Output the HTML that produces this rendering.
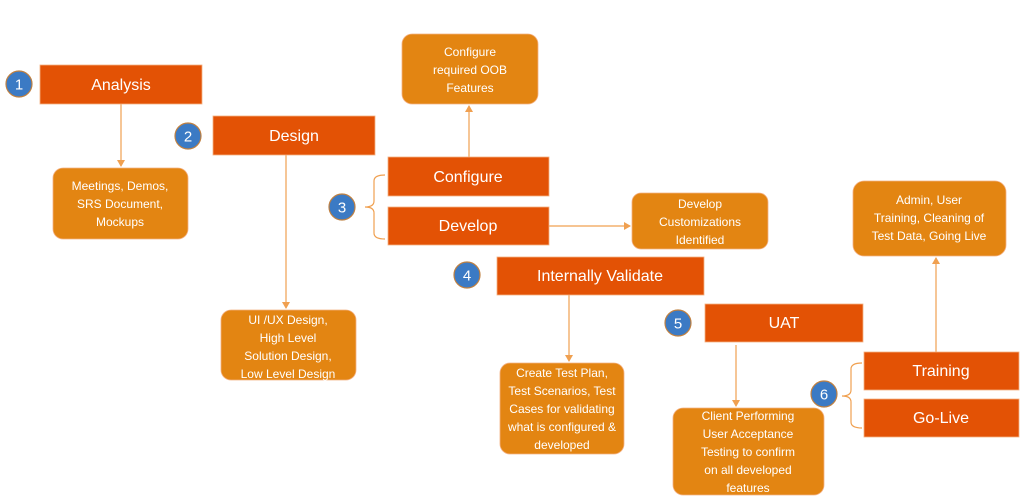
<!DOCTYPE html>
<html><head><meta charset="utf-8"><style>
html,body{margin:0;padding:0;background:#fff;}
svg{display:block;}
.h{fill:#fff;font-family:"Liberation Sans",sans-serif;font-size:16px;text-anchor:middle;}
.t{fill:#fff;font-family:"Liberation Sans",sans-serif;font-size:12px;text-anchor:middle;}
.n{fill:#fff;font-family:"Liberation Sans",sans-serif;font-size:15px;text-anchor:middle;}
.b{fill:#E35205;stroke:#F4B183;stroke-width:0.8;}
.r{fill:#E38512;stroke:#F4B183;stroke-width:0.8;}
.c{fill:#3B7AC4;stroke:#C08040;stroke-width:1.2;}
.l{stroke:#F0A050;stroke-width:1.2;fill:none;}
</style></head><body>
<svg width="1024" height="499" viewBox="0 0 1024 499" xmlns="http://www.w3.org/2000/svg">
<defs><marker id="a" markerWidth="8" markerHeight="8" refX="6" refY="4" orient="auto" markerUnits="userSpaceOnUse"><path d="M0,0 L7,4 L0,8 z" fill="#F0A050"/></marker></defs>

<line class="l" x1="121" y1="104" x2="121" y2="166" marker-end="url(#a)"/>
<line class="l" x1="286" y1="155" x2="286" y2="308" marker-end="url(#a)"/>
<line class="l" x1="469" y1="157" x2="469" y2="106" marker-end="url(#a)"/>
<line class="l" x1="549" y1="226" x2="630" y2="226" marker-end="url(#a)"/>
<line class="l" x1="569" y1="295" x2="569" y2="361" marker-end="url(#a)"/>
<line class="l" x1="736" y1="345" x2="736" y2="406" marker-end="url(#a)"/>
<line class="l" x1="936" y1="352" x2="936" y2="258" marker-end="url(#a)"/>
<path class="l" d="M385,175 Q374,175 374,181 L374,201 Q374,207 365,207 Q374,207 374,213 L374,233 Q374,239 385,239"/>
<path class="l" d="M862,363 Q851,363 851,369 L851,390 Q851,396 842,396 Q851,396 851,402 L851,422 Q851,428 862,428"/>

<circle class="c" cx="19" cy="84" r="13"/><text class="n" x="19" y="89.5">1</text>
<circle class="c" cx="188" cy="136" r="13"/><text class="n" x="188" y="141.5">2</text>
<circle class="c" cx="342" cy="207" r="13"/><text class="n" x="342" y="212.5">3</text>
<circle class="c" cx="467" cy="275" r="13"/><text class="n" x="467" y="280.5">4</text>
<circle class="c" cx="678" cy="323" r="13"/><text class="n" x="678" y="328.5">5</text>
<circle class="c" cx="824" cy="394" r="13"/><text class="n" x="824" y="399.5">6</text>

<rect class="b" x="40" y="65" width="162" height="39"/><text class="h" x="121" y="90">Analysis</text>
<rect class="b" x="213" y="116" width="162" height="39"/><text class="h" x="294" y="141">Design</text>
<rect class="b" x="388" y="157" width="161" height="39"/><text class="h" x="468" y="182">Configure</text>
<rect class="b" x="388" y="207" width="161" height="38"/><text class="h" x="468" y="231">Develop</text>
<rect class="b" x="497" y="257" width="207" height="38"/><text class="h" x="600" y="281">Internally Validate</text>
<rect class="b" x="705" y="304" width="158" height="38"/><text class="h" x="784" y="328">UAT</text>
<rect class="b" x="864" y="352" width="155" height="38"/><text class="h" x="941" y="376">Training</text>
<rect class="b" x="864" y="399" width="155" height="38"/><text class="h" x="941" y="423">Go-Live</text>

<rect class="r" x="53" y="168" width="135" height="71" rx="10"/>
<text class="t" x="120" y="190"><tspan x="120">Meetings, Demos,</tspan><tspan x="120" dy="18">SRS Document,</tspan><tspan x="120" dy="18">Mockups</tspan></text>

<rect class="r" x="402" y="34" width="136" height="70" rx="10"/>
<text class="t" x="470" y="56"><tspan x="470">Configure</tspan><tspan x="470" dy="18">required OOB</tspan><tspan x="470" dy="18">Features</tspan></text>

<rect class="r" x="632" y="193" width="136" height="56" rx="9"/>
<text class="t" x="700" y="208"><tspan x="700">Develop</tspan><tspan x="700" dy="18">Customizations</tspan><tspan x="700" dy="18">Identified</tspan></text>

<rect class="r" x="221" y="310" width="135" height="70" rx="10"/>
<text class="t" x="288" y="324"><tspan x="288">UI /UX Design,</tspan><tspan x="288" dy="18">High Level</tspan><tspan x="288" dy="18">Solution Design,</tspan><tspan x="288" dy="18">Low Level Design</tspan></text>

<rect class="r" x="500" y="363" width="124" height="91" rx="10"/>
<text class="t" x="562" y="377"><tspan x="562">Create Test Plan,</tspan><tspan x="562" dy="18">Test Scenarios, Test</tspan><tspan x="562" dy="18">Cases for validating</tspan><tspan x="562" dy="18">what is configured &amp;</tspan><tspan x="562" dy="18">developed</tspan></text>

<rect class="r" x="673" y="408" width="151" height="87" rx="10"/>
<text class="t" x="748" y="420"><tspan x="748">Client Performing</tspan><tspan x="748" dy="18">User Acceptance</tspan><tspan x="748" dy="18">Testing to confirm</tspan><tspan x="748" dy="18">on all developed</tspan><tspan x="748" dy="18">features</tspan></text>

<rect class="r" x="853" y="181" width="153" height="75" rx="11"/>
<text class="t" x="929" y="204"><tspan x="929">Admin, User</tspan><tspan x="929" dy="18">Training, Cleaning of</tspan><tspan x="929" dy="18">Test Data, Going Live</tspan></text>
</svg>
</body></html>
